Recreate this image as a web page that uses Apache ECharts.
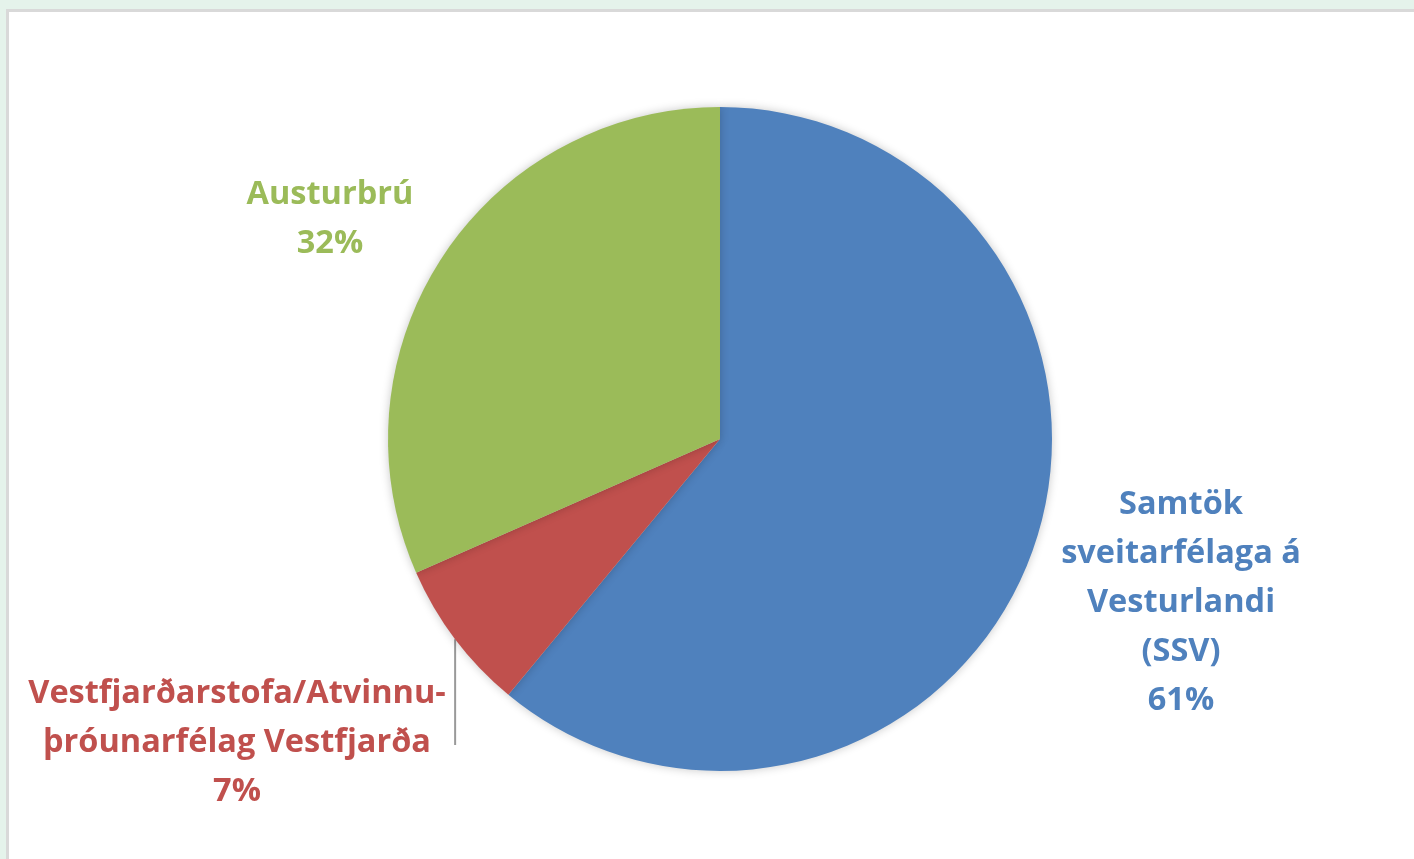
<!DOCTYPE html>
<html>
<head>
<meta charset="utf-8">
<script src="https://cdn.jsdelivr.net/npm/echarts@6/dist/echarts.min.js"></script>
<style>
html,body{margin:0;padding:0;width:1414px;height:859px;overflow:hidden;background:#e5f3eb;}
#frame{position:absolute;left:6px;top:9px;right:-10px;bottom:-10px;background:#fff;border-top:3px solid #d9d9d9;border-left:3px solid #d9d9d9;}
#chart{position:absolute;left:0;top:0;width:1414px;height:859px;}
</style>
</head>
<body>
<div id="frame"></div>
<div id="chart"></div>
<script>
const categories = ['Samtök\nsveitarfélaga á\nVesturlandi\n(SSV)', 'Vestfjarðarstofa/Atvinnu-\nþróunarfélag Vestfjarða', 'Austurbrú'];
const values = [61.0, 7.4, 31.6];
const colors = ['#4f81bd', '#c0504d', '#9bbb59'];
const labelCenters = [[1181, 603], [237, 743], [330, 219]];
const leaderEndY = 745;

const chart = echarts.init(document.getElementById('chart'), null, {renderer: 'canvas'});
chart.setOption({
  backgroundColor: 'transparent',
  animation: false,
  series: [{
    type: 'pie',
    center: [720, 439],
    radius: 332,
    startAngle: 90,
    clockwise: true,
    avoidLabelOverlap: false,
    itemStyle: {
      borderWidth: 0,
      shadowBlur: 10,
      shadowColor: 'rgba(0,0,0,0.22)'
    },
    label: {
      show: true,
      position: 'outside',
      fontFamily: 'Open Sans',
      fontWeight: 'bold',
      fontSize: 32.5,
      lineHeight: 49,
      align: 'center',
      formatter: p => p.name + '\n' + Math.round(p.percent) + '%'
    },
    labelLine: {show: false, lineStyle: {color: '#999999', width: 2}},
    labelLayout: function (params) {
      const c = labelCenters[params.dataIndex];
      const res = {x: c[0], y: c[1], align: 'center', verticalAlign: 'middle'};
      if (params.dataIndex === 1 && params.labelLinePoints) {
        const s = params.labelLinePoints[0];
        res.labelLinePoints = [[s[0], s[1]], [s[0], (s[1] + leaderEndY) / 2], [s[0], leaderEndY]];
      }
      return res;
    },
    data: categories.map((n, i) => ({
      name: n,
      value: values[i],
      itemStyle: {color: colors[i]},
      label: {color: colors[i]},
      labelLine: {show: i === 1}
    }))
  }]
});
</script>
</body>
</html>
